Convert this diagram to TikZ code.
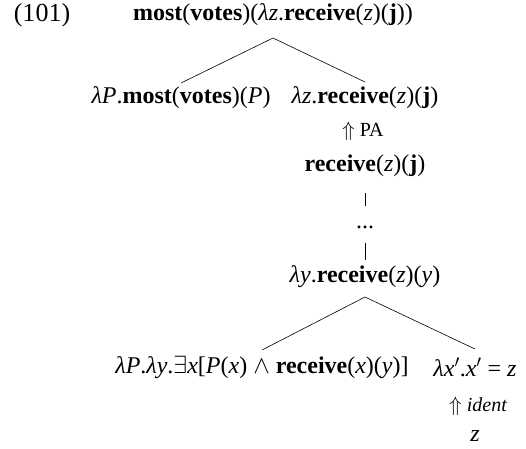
\documentclass[tikz,border=0pt]{standalone}
\usepackage{fontspec}
\setmainfont{Liberation Serif}
\newcommand{\bfw}[1]{\textbf{#1}}
\newcommand{\vr}[1]{\textit{#1}}
\newcommand{\lam}{\textit{λ}}
\begin{document}
\begin{tikzpicture}[x=1pt,y=1pt,
  lab/.style={inner sep=0pt,font=\fontsize{24}{28}\selectfont},
  small/.style={inner sep=0pt,anchor=west,font=\fontsize{20}{24}\selectfont},
  edge/.style={line width=0.6pt,black}]
\useasboundingbox (0,0) rectangle (526,-448);
\node[inner sep=0pt,font=\fontsize{26}{30}\selectfont] (num) at (42,-15) {(101)};
\node[lab] (root) at (273,-15) {\bfw{most}(\bfw{votes})(\lam\vr{z}.\bfw{receive}(\vr{z})(\bfw{j}))};
\node[lab] (l1) at (181,-98) {\lam\vr{P}.\bfw{most}(\bfw{votes})(\vr{P})};
\node[lab] (r1) at (365,-98) {\lam\vr{z}.\bfw{receive}(\vr{z})(\bfw{j})};
\node[small] (pa) at (342,-131) {$\Uparrow$ PA};
\node[lab] (rec) at (365,-166) {\bfw{receive}(\vr{z})(\bfw{j})};
\node[lab] (dots) at (365,-227) {...};
\node[lab] (ly) at (365,-277) {\lam\vr{y}.\bfw{receive}(\vr{z})(\vr{y})};
\node[lab] (l2) at (262,-367) {\lam\vr{P}.\lam\vr{y}.$\exists$\vr{x}[\vr{P}(\vr{x}) $\wedge$ \bfw{receive}(\vr{x})(\vr{y})]};
\node[lab] (r2) at (475,-367) {\lam\vr{x}$'$.\vr{x}$'$ = \vr{z}};
\node[small] (id) at (449,-406) {$\Uparrow$ \vr{ident}};
\node[lab] (z) at (475,-436) {\vr{z}};
\draw[edge] ([yshift=-23pt]root.center) -- ([yshift=15pt]l1.center);
\draw[edge] ([yshift=-23pt]root.center) -- ([yshift=16pt]r1.center);
\draw[edge] ([yshift=-27pt]rec.center) -- ([yshift=21pt]dots.center);
\draw[edge] ([yshift=-16pt]dots.center) -- ([yshift=17pt]ly.center);
\draw[edge] ([yshift=-20pt]ly.center) -- ([yshift=17pt]l2.center);
\draw[edge] ([yshift=-20pt]ly.center) -- ([yshift=18pt]r2.center);
\end{tikzpicture}
\end{document}
